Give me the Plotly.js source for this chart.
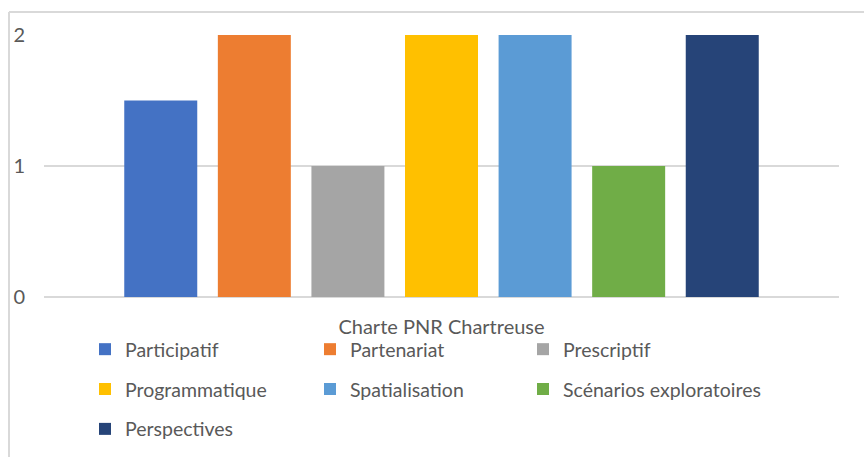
<!DOCTYPE html>
<html>
<head>
<meta charset="utf-8">
<script src="https://cdn.plot.ly/plotly-3.0.1.min.js"></script>
<style>html,body{margin:0;padding:0;background:#fff;}#chart{width:864px;height:457px;}</style>
</head>
<body>
<div id="chart"></div>
<script>
const category = ["Charte PNR Chartreuse"];
const seriesNames = ["Participatif", "Partenariat", "Prescriptif", "Programmatique", "Spatialisation", "Scénarios exploratoires", "Perspectives"];
const seriesValues = [1.5, 2, 1, 2, 2, 1, 2];
const seriesColors = ["#4472C4", "#ED7D31", "#A5A5A5", "#FFC000", "#5B9BD5", "#70AD47", "#264478"];
const legendOf = ["legend", "legend2", "legend3", "legend", "legend2", "legend3", "legend"];
const yTicks = [0, 1, 2];

const traces = seriesNames.map((name, i) => ({
  type: "bar",
  name: name,
  x: category,
  y: [seriesValues[i]],
  marker: {color: seriesColors[i], line: {width: 0}},
  legend: legendOf[i],
  legendgroup: "g" + i,
  hoverinfo: "none"
}));

const W = 864, H = 457;
const L = 44, R = 25, T = 35, B = 160;
const pw = W - L - R, ph = H - T - B;
const legFont = {family: "Lato, 'Open Sans', sans-serif", size: 19.5, color: "#595959"};
function leg(xpx, ypx) {
  return {
    x: xpx / W, y: 1 - ypx / H, xref: "container", yref: "container",
    xanchor: "left", yanchor: "top", orientation: "v",
    font: legFont, bgcolor: "rgba(0,0,0,0)", borderwidth: 0,
    tracegroupgap: 11.5, itemclick: false, itemdoubleclick: false
  };
}

const layout = {
  width: W, height: H,
  margin: {l: L, r: R, t: T, b: B, pad: 0, autoexpand: false},
  paper_bgcolor: "#ffffff", plot_bgcolor: "#ffffff",
  barmode: "group", bargap: 0.176, bargroupgap: 0.22,
  showlegend: true,
  font: {family: "Lato, 'Open Sans', sans-serif", color: "#595959"},
  xaxis: {
    type: "category", showgrid: false, showline: false, zeroline: false,
    ticks: "", tickfont: {size: 20, color: "#595959"}, ticklabelstandoff: 16,
    fixedrange: true, automargin: false
  },
  yaxis: {
    range: [0, 2], tickvals: yTicks, ticktext: yTicks.map(String),
    showgrid: true, gridcolor: "#D9D9D9", gridwidth: 1.3,
    zeroline: true, zerolinecolor: "#D9D9D9", zerolinewidth: 1.3,
    showline: false, ticks: "", tickfont: {size: 20, color: "#595959"},
    ticklabelstandoff: 18, fixedrange: true, automargin: false
  },
  legend: leg(85, 330),
  legend2: leg(310, 330),
  legend3: leg(523, 330),
  shapes: [
    {type: "line", xref: "paper", yref: "paper",
     x0: (9 - L) / pw, x1: (W + 10 - L) / pw, y0: 1 + (T - 12) / ph, y1: 1 + (T - 12) / ph,
     line: {color: "#D9D9D9", width: 2}},
    {type: "line", xref: "paper", yref: "paper",
     x0: (9 - L) / pw, x1: (9 - L) / pw, y0: 1 + (T - 12) / ph, y1: -(B + 10) / ph,
     line: {color: "#D9D9D9", width: 2}}
  ]
};

Plotly.newPlot("chart", traces, layout, {displayModeBar: false, staticPlot: true});
</script>
</body>
</html>
